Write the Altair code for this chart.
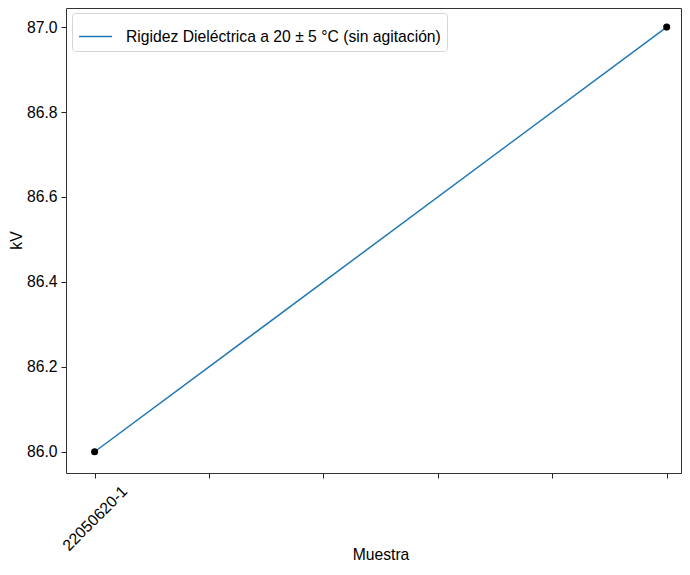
import altair as alt
import pandas as pd

# Data
tick_labels = ["22050620-1"]          # only the first x tick is labelled
x_pos = [0, 1]
kv = [86.0, 87.0]
series_name = "Rigidez Dieléctrica a 20 ± 5 °C (sin agitación)"
x_ticks = [0, 0.2, 0.4, 0.6, 0.8, 1.0]
y_ticks = [86.0, 86.2, 86.4, 86.6, 86.8, 87.0]

df = pd.DataFrame({"x": x_pos, "kv": kv, "serie": [series_name] * len(x_pos)})

FONT = "Liberation Sans"
FS = 15.7
label_expr = " : ".join(
    [f"datum.value == {i} ? '{lab}'" for i, lab in enumerate(tick_labels)]
) + " : ''"

x_enc = alt.X(
    "x:Q",
    scale=alt.Scale(domain=[-0.05, 1.025], nice=False, zero=False),
    axis=alt.Axis(
        values=x_ticks,
        labelExpr=label_expr,
        labelAngle=315,
        labelAlign="center",
        labelBaseline="middle",
        labelPadding=40,
        labelOverlap=False,
        labelFlush=False,
        title="Muestra",
        titleX=314.5,
        titleY=86,
        titleAlign="center",
        titleBaseline="alphabetic",
        titleAngle=0,
    ),
)
y_enc = alt.Y(
    "kv:Q",
    scale=alt.Scale(domain=[85.95, 87.045], nice=False, zero=False),
    axis=alt.Axis(
        values=y_ticks,
        format=".1f",
        labelPadding=4,
        title="kV",
        titleX=-45,
        titleY=232,
        titleAngle=270,
        titleAlign="center",
        titleBaseline="alphabetic",
    ),
)

line = alt.Chart(df).mark_line(strokeWidth=1.5).encode(
    x=x_enc,
    y=y_enc,
    color=alt.Color(
        "serie:N",
        scale=alt.Scale(range=["#1f77b4"]),
        legend=alt.Legend(
            title=None,
            orient="none",
            legendX=6,
            legendY=5,
            symbolType="stroke",
            symbolSize=1089,
            symbolStrokeWidth=1.5,
            labelFontSize=FS,
            labelFont=FONT,
            labelColor="black",
            labelOffset=13,
            labelLimit=600,
            padding=6,
            strokeColor="#d5d5d5",
            cornerRadius=3,
            fillColor="white",
        ),
    ),
)

points = alt.Chart(df).mark_point(filled=True, size=50, opacity=1, color="black").encode(
    x="x:Q", y="kv:Q"
)

chart = (
    alt.layer(line, points)
    .properties(
        width=615,
        height=465,
        autosize=alt.AutoSizeParams(type="none"),
        padding={"left": 58, "top": 0, "right": 1, "bottom": 88},
        background="white",
    )
    .configure_view(stroke="#333333", strokeWidth=1)
    .configure_axis(
        domain=False,
        grid=False,
        ticks=True,
        tickSize=5,
        tickColor="#222222",
        tickWidth=1,
        labelFont=FONT,
        labelFontSize=FS,
        labelColor="black",
        titleFont=FONT,
        titleFontSize=FS,
        titleFontWeight="normal",
        titleColor="black",
    )
)

chart.save("out.html", embed_options={"renderer": "svg", "actions": False})
